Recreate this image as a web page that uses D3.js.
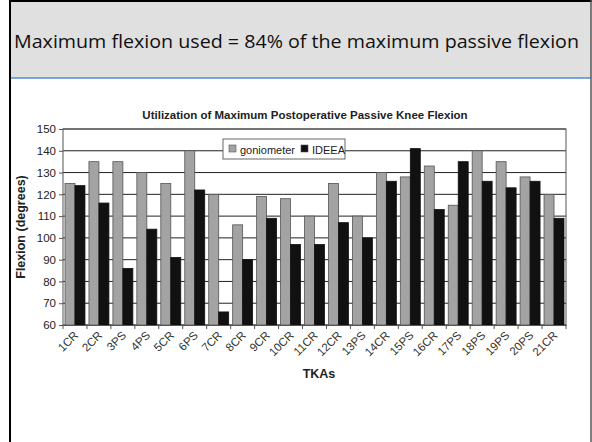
<!DOCTYPE html>
<html>
<head>
<meta charset="utf-8">
<script src="https://cdn.jsdelivr.net/npm/d3@7"></script>
<style>
  body { margin: 0; background: #fff; }
  svg text { font-family: "Liberation Sans", Arial, sans-serif; }
</style>
</head>
<body>
<div id="container"></div>
<script>
// DATA
const categories = ["1CR","2CR","3PS","4PS","5CR","6PS","7CR","8CR","9CR","10CR","11CR",
  "12CR","13PS","14CR","15PS","16CR","17PS","18PS","19PS","20PS","21CR"];
const goniometer = [125,135,135,130,125,140,120,106,119,118,110,125,110,130,128,133,115,140,135,128,120];
const ideea = [124,116,86,104,91,122,66,90,109,97,97,107,100,126,141,113,135,126,123,126,109];
const seriesNames = ["goniometer", "IDEEA"];
const yTicks = [60,70,80,90,100,110,120,130,140,150];

const width = 592, height = 442;
const margin = {top: 129, bottom: 117, left: 63, right: 26};

const svg = d3.select("#container").append("svg")
  .attr("width", width).attr("height", height);

// slide frame + header
svg.append("rect").attr("x", 11).attr("y", 2).attr("width", 580).attr("height", 76).attr("fill", "#e0e0e0");
svg.append("line").attr("x1", 11).attr("x2", 591).attr("y1", 78).attr("y2", 78)
  .attr("stroke", "#4f8fd0").attr("stroke-width", 1.5);
svg.append("line").attr("x1", 10).attr("x2", 10).attr("y1", 0).attr("y2", height)
  .attr("stroke", "#000").attr("stroke-width", 2);
svg.append("line").attr("x1", 9).attr("x2", 592).attr("y1", 1).attr("y2", 1)
  .attr("stroke", "#000").attr("stroke-width", 2);
svg.append("line").attr("x1", 591).attr("x2", 591).attr("y1", 0).attr("y2", height)
  .attr("stroke", "#555").attr("stroke-width", 1.5);

svg.append("text").attr("x", 14).attr("y", 48)
  .attr("font-size", 18.5).attr("fill", "#111")
  .attr("textLength", 565).attr("lengthAdjust", "spacingAndGlyphs")
  .style("font-family", "'Open Sans', 'Noto Sans', sans-serif")
  .text("Maximum flexion used = 84% of the maximum passive flexion");

// SCALES
const xScale = d3.scaleBand().domain(categories)
  .range([margin.left, width - margin.right]).paddingInner(0).paddingOuter(0);
const xSub = d3.scaleBand().domain(seriesNames)
  .range([0, xScale.bandwidth()]).paddingInner(0).paddingOuter(0.2);
const yScale = d3.scaleLinear().domain([60, 150])
  .range([height - margin.bottom, margin.top]);

const colors = {goniometer: "#a3a3a3", IDEEA: "#111"};

// gridlines
svg.append("g").selectAll("line").data(yTicks).join("line")
  .attr("x1", margin.left).attr("x2", width - margin.right)
  .attr("y1", d => yScale(d)).attr("y2", d => yScale(d))
  .attr("stroke", "#222").attr("stroke-width", 1);

// plot frame
svg.append("rect").attr("x", margin.left).attr("y", margin.top)
  .attr("width", width - margin.right - margin.left)
  .attr("height", yScale(60) - margin.top)
  .attr("fill", "none").attr("stroke", "#555").attr("stroke-width", 1);

// bars
const rows = categories.map((c, i) => ({cat: c, goniometer: goniometer[i], IDEEA: ideea[i]}));
svg.append("g").selectAll("g").data(rows).join("g")
  .attr("transform", d => `translate(${xScale(d.cat)},0)`)
  .selectAll("rect").data(d => seriesNames.map(k => ({key: k, value: d[k]}))).join("rect")
  .attr("x", d => xSub(d.key))
  .attr("width", xSub.bandwidth())
  .attr("y", d => yScale(d.value))
  .attr("height", d => yScale(60) - yScale(d.value))
  .attr("fill", d => colors[d.key])
  .attr("stroke", d => d.key === "goniometer" ? "#555" : "#111")
  .attr("stroke-width", 0.8);

// axes
const xAxis = d3.axisBottom(xScale).tickSize(0).tickFormat("");
const xAxisGroup = svg.append("g")
  .attr("transform", `translate(0, ${yScale(60)})`)
  .call(xAxis);
xAxisGroup.select(".domain").attr("stroke", "#555");
// tick marks at category boundaries
svg.append("g").selectAll("line").data(d3.range(categories.length + 1)).join("line")
  .attr("x1", i => margin.left + i * xScale.step())
  .attr("x2", i => margin.left + i * xScale.step())
  .attr("y1", yScale(60)).attr("y2", yScale(60) + 4)
  .attr("stroke", "#555");

svg.append("g").selectAll("text").data(categories).join("text")
  .attr("transform", d => `translate(${xScale(d) + xScale.bandwidth() / 2 + 4}, ${yScale(60) + 11}) rotate(-45)`)
  .attr("text-anchor", "end")
  .attr("font-size", 11.5).attr("fill", "#333")
  .text(d => d);

const yAxis = d3.axisLeft(yScale).tickValues(yTicks).tickSize(4).tickPadding(3);
const yAxisGroup = svg.append("g")
  .attr("transform", `translate(${margin.left}, 0)`)
  .call(yAxis);
yAxisGroup.select(".domain").remove();
yAxisGroup.selectAll("line").attr("stroke", "#555");
yAxisGroup.selectAll("text").attr("font-size", 11.5).attr("fill", "#222")
  .style("font-family", "'Liberation Sans', Arial, sans-serif");

// titles
svg.append("text").attr("x", 305).attr("y", 119)
  .attr("text-anchor", "middle").attr("font-size", 11.5).attr("font-weight", "bold").attr("fill", "#222")
  .text("Utilization of Maximum Postoperative Passive Knee Flexion");
svg.append("text").attr("x", 319).attr("y", 378)
  .attr("text-anchor", "middle").attr("font-size", 12.5).attr("font-weight", "bold").attr("fill", "#222")
  .text("TKAs");
svg.append("text")
  .attr("transform", `translate(25, ${(margin.top + yScale(60)) / 2}) rotate(-90)`)
  .attr("text-anchor", "middle").attr("font-size", 12.5).attr("font-weight", "bold").attr("fill", "#222")
  .text("Flexion (degrees)");

// legend
const legend = svg.append("g").attr("transform", "translate(223, 139)");
legend.append("rect").attr("width", 122).attr("height", 20)
  .attr("fill", "#fff").attr("stroke", "#666").attr("stroke-width", 1);
const legItems = [{key: "goniometer", x: 6}, {key: "IDEEA", x: 78}];
legItems.forEach(it => {
  legend.append("rect").attr("x", it.x).attr("y", 6).attr("width", 7).attr("height", 7)
    .attr("fill", colors[it.key]).attr("stroke", "#555").attr("stroke-width", 0.6);
  legend.append("text").attr("x", it.x + 11).attr("y", 14.5)
    .attr("font-size", 11).attr("fill", "#222").text(it.key);
});
</script>
</body>
</html>
